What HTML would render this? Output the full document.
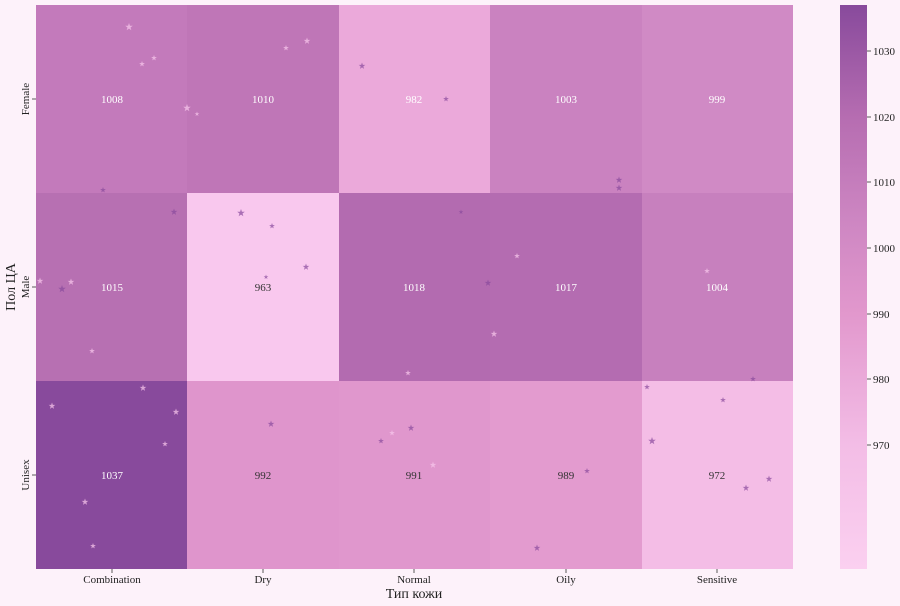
<!DOCTYPE html>
<html><head><meta charset="utf-8"><style>
body{margin:0;background:#fdf2fa;}
svg{display:block;font-family:"Liberation Serif",serif;}
</style></head><body>
<svg width="900" height="606" viewBox="0 0 900 606" xmlns="http://www.w3.org/2000/svg">
<defs>
<linearGradient id="cb" x1="0" y1="1" x2="0" y2="0">
<stop offset="0" stop-color="#fbd0f0"/>
<stop offset="0.22" stop-color="#f3bde6"/>
<stop offset="0.45" stop-color="#e298cd"/>
<stop offset="0.62" stop-color="#cd86c2"/>
<stop offset="0.8" stop-color="#b66db1"/>
<stop offset="1" stop-color="#884a9c"/>
</linearGradient>
<path id="st" d="M0,-1 L0.235,-0.324 L0.951,-0.309 L0.38,0.124 L0.588,0.809 L0,0.4 L-0.588,0.809 L-0.38,0.124 L-0.951,-0.309 L-0.235,-0.324Z"/>
</defs>
<rect width="900" height="606" fill="#fdf2fa"/>
<g>
<rect x="36" y="5" width="152" height="188" fill="#c37abb"/>
<rect x="187" y="5" width="152" height="188" fill="#bf76b7"/>
<rect x="339" y="5" width="152" height="188" fill="#eba9da"/>
<rect x="490" y="5" width="152" height="188" fill="#ca82c0"/>
<rect x="642" y="5" width="151" height="188" fill="#d08ac5"/>
<rect x="36" y="193" width="152" height="188" fill="#b770b2"/>
<rect x="187" y="193" width="152" height="188" fill="#f9c8ee"/>
<rect x="339" y="193" width="152" height="188" fill="#b36bb0"/>
<rect x="490" y="193" width="152" height="188" fill="#b46cb1"/>
<rect x="642" y="193" width="151" height="188" fill="#c780be"/>
<rect x="36" y="381" width="152" height="188" fill="#884a9c"/>
<rect x="187" y="381" width="152" height="188" fill="#df95cc"/>
<rect x="339" y="381" width="152" height="188" fill="#e097cd"/>
<rect x="490" y="381" width="152" height="188" fill="#e39bcf"/>
<rect x="642" y="381" width="151" height="188" fill="#f4bde6"/>
</g>
<g fill="#f6c4ea" opacity="0.75">
<use href="#st" transform="translate(129,27) scale(4)"/>
<use href="#st" transform="translate(142,64) scale(3)"/>
<use href="#st" transform="translate(154,58) scale(3)"/>
<use href="#st" transform="translate(187,108) scale(4)"/>
<use href="#st" transform="translate(197,114) scale(2.5)"/>
<use href="#st" transform="translate(307,41) scale(3.5)"/>
<use href="#st" transform="translate(286,48) scale(3)"/>
<use href="#st" transform="translate(71,282) scale(3.5)"/>
<use href="#st" transform="translate(40,281) scale(3.5)"/>
<use href="#st" transform="translate(92,351) scale(3)"/>
<use href="#st" transform="translate(143,388) scale(3.5)"/>
<use href="#st" transform="translate(52,406) scale(3.5)"/>
<use href="#st" transform="translate(176,412) scale(3.5)"/>
<use href="#st" transform="translate(165,444) scale(3)"/>
<use href="#st" transform="translate(85,502) scale(3.5)"/>
<use href="#st" transform="translate(93,546) scale(3)"/>
<use href="#st" transform="translate(494,334) scale(3.5)"/>
<use href="#st" transform="translate(517,256) scale(3)"/>
<use href="#st" transform="translate(408,373) scale(3)"/>
<use href="#st" transform="translate(433,465) scale(3.5)"/>
<use href="#st" transform="translate(707,271) scale(3)"/>
<use href="#st" transform="translate(392,433) scale(3)"/>
</g>
<g fill="#884a9c" opacity="0.7">
<use href="#st" transform="translate(62,289) scale(4)"/>
<use href="#st" transform="translate(174,212) scale(3.5)"/>
<use href="#st" transform="translate(241,213) scale(4)"/>
<use href="#st" transform="translate(272,226) scale(3)"/>
<use href="#st" transform="translate(306,267) scale(3.5)"/>
<use href="#st" transform="translate(266,277) scale(2.5)"/>
<use href="#st" transform="translate(362,66) scale(3.5)"/>
<use href="#st" transform="translate(446,99) scale(3)"/>
<use href="#st" transform="translate(619,180) scale(3.5)"/>
<use href="#st" transform="translate(619,188) scale(3.5)"/>
<use href="#st" transform="translate(488,283) scale(3.5)"/>
<use href="#st" transform="translate(271,424) scale(3.5)"/>
<use href="#st" transform="translate(537,548) scale(3.5)"/>
<use href="#st" transform="translate(652,441) scale(4)"/>
<use href="#st" transform="translate(769,479) scale(3.5)"/>
<use href="#st" transform="translate(746,488) scale(3.5)"/>
<use href="#st" transform="translate(753,379) scale(3)"/>
<use href="#st" transform="translate(723,400) scale(3)"/>
<use href="#st" transform="translate(647,387) scale(3)"/>
<use href="#st" transform="translate(411,428) scale(3.5)"/>
<use href="#st" transform="translate(381,441) scale(3)"/>
<use href="#st" transform="translate(587,471) scale(3)"/>
<use href="#st" transform="translate(103,190) scale(3)"/>
<use href="#st" transform="translate(461,212) scale(2.5)"/>
</g>
<g font-size="11" text-anchor="middle">
<text x="112" y="103" fill="#fff">1008</text>
<text x="263" y="103" fill="#fff">1010</text>
<text x="414" y="103" fill="#fff">982</text>
<text x="566" y="103" fill="#fff">1003</text>
<text x="717" y="103" fill="#fff">999</text>
<text x="112" y="291" fill="#fff">1015</text>
<text x="263" y="291" fill="#333">963</text>
<text x="414" y="291" fill="#fff">1018</text>
<text x="566" y="291" fill="#fff">1017</text>
<text x="717" y="291" fill="#fff">1004</text>
<text x="112" y="479" fill="#fff">1037</text>
<text x="263" y="479" fill="#333">992</text>
<text x="414" y="479" fill="#333">991</text>
<text x="566" y="479" fill="#333">989</text>
<text x="717" y="479" fill="#333">972</text>
</g>
<g stroke="#333" stroke-width="0.8">
<line x1="112" y1="569" x2="112" y2="573"/><line x1="263" y1="569" x2="263" y2="573"/><line x1="414" y1="569" x2="414" y2="573"/><line x1="566" y1="569" x2="566" y2="573"/><line x1="717" y1="569" x2="717" y2="573"/>
<line x1="32" y1="99" x2="36" y2="99"/><line x1="32" y1="287" x2="36" y2="287"/><line x1="32" y1="475" x2="36" y2="475"/>
</g>
<g font-size="11" fill="#222" text-anchor="middle">
<text x="112" y="583">Combination</text>
<text x="263" y="583">Dry</text>
<text x="414" y="583">Normal</text>
<text x="566" y="583">Oily</text>
<text x="717" y="583">Sensitive</text>
<text transform="translate(29,99) rotate(-90)">Female</text>
<text transform="translate(29,287) rotate(-90)">Male</text>
<text transform="translate(29,475) rotate(-90)">Unisex</text>
</g>
<text x="414" y="598" font-size="14" text-anchor="middle" fill="#222">Тип кожи</text>
<text transform="translate(15,287) rotate(-90)" font-size="14" text-anchor="middle" fill="#222">Пол ЦА</text>
<rect x="840" y="5" width="27" height="564" fill="url(#cb)"/>
<g stroke="#333" stroke-width="0.8">
<line x1="867" y1="51" x2="871" y2="51"/><line x1="867" y1="117" x2="871" y2="117"/><line x1="867" y1="182" x2="871" y2="182"/><line x1="867" y1="248" x2="871" y2="248"/><line x1="867" y1="314" x2="871" y2="314"/><line x1="867" y1="379" x2="871" y2="379"/><line x1="867" y1="445" x2="871" y2="445"/>
</g>
<g font-size="11" fill="#222">
<text x="873" y="55">1030</text><text x="873" y="121">1020</text><text x="873" y="186">1010</text><text x="873" y="252">1000</text><text x="873" y="318">990</text><text x="873" y="383">980</text><text x="873" y="449">970</text>
</g>
</svg>
</body></html>
